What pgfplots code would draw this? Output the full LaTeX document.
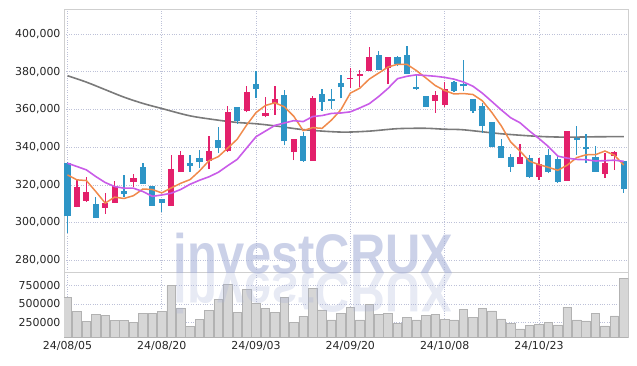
\documentclass[border=0pt]{standalone}
\usepackage{fontspec}
\setmainfont{DejaVu Sans}
\newfontfamily\wmfont{Liberation Sans}
\usepackage{pgfplots}
\usepackage{pgfplotstable}
\pgfplotsset{compat=1.18}
\definecolor{upc}{HTML}{E3206B}
\definecolor{dnc}{HTML}{2E95C6}
\definecolor{ma5}{HTML}{F08A4B}
\definecolor{ma10}{HTML}{C95CE8}
\definecolor{ma60}{HTML}{7A7A7A}
\definecolor{gridc}{HTML}{BDC1D8}
\definecolor{framec}{HTML}{CFCFCF}
\definecolor{wmc}{HTML}{A8B2D9}

\pgfplotstableread{
i o h l c
1 308500 322650 308000 318760
2 311680 324420 311150 316100
4 307960 315570 304600 310440
5 310620 322300 310620 319470
7 321770 325840 319110 323540
11 309020 335930 309020 328320
12 326720 337700 326720 335750
15 332740 345660 328490 337700
17 338050 361950 337340 358580
19 358940 372570 358400 369380
21 356280 366550 355750 358230
22 363010 372570 357170 365660
24 337340 344250 333090 344250
26 332740 367260 332740 366020
30 375930 382120 371150 376810
31 377520 380710 371860 378940
32 380180 393100 380180 387960
34 381950 387790 373450 387790
39 364740 369520 358370 367610
40 362500 374300 361240 370800
48 330970 341590 330970 334690
50 324070 334160 322650 331150
53 322300 348320 322300 348320
57 325660 336810 323540 331500
58 335570 337700 327960 337340
}\uptab

\pgfplotstableread{
i o h l c
0 331500 332000 294330 303700
3 309900 313450 302650 302650
6 316810 325300 313800 315220
8 329380 331500 320350 320350
9 319470 319470 309020 309020
10 312560 312560 305480 310620
13 331680 335930 327080 330260
14 334160 338230 328850 331860
16 343890 350620 336990 339290
18 361060 361060 352390 353630
20 373630 380180 365840 370800
23 367610 370440 340880 343010
25 346020 347960 332030 332740
27 368140 370800 359290 363890
28 365500 370800 360180 364500
29 373980 378050 365840 371680
33 389030 390800 381060 381060
35 387790 388480 382800 384070
36 389010 393790 378760 378760
37 372000 378760 370420 371000
38 367240 367240 361240 361560
41 374300 375220 369030 369520
42 373300 386370 369560 372300
43 365660 365660 358050 358940
44 361950 363360 347430 350970
45 353270 353270 340000 340000
46 340710 344250 334160 334160
47 334690 336460 327080 329730
49 334160 335930 323540 324070
51 335750 338940 326190 326900
52 333800 335400 320880 321770
54 344700 351000 335930 343700
55 339820 346900 331500 338760
56 335040 340710 327080 327080
59 332740 332740 315930 317700
}\dntab

\pgfplotstableread{
i v
0 591000
1 395000
2 258000
3 359000
4 340000
5 272000
6 272000
7 250000
8 368000
9 368000
10 395000
11 750000
12 441000
13 195000
14 291000
15 414000
16 564000
17 769000
18 387000
19 701000
20 510000
21 441000
22 387000
23 591000
24 250000
25 332000
26 714000
27 418000
28 281000
29 373000
30 455000
31 281000
32 496000
33 359000
34 373000
35 236000
36 318000
37 281000
38 340000
39 359000
40 291000
41 281000
42 427000
43 318000
44 441000
45 404000
46 295000
47 236000
48 158000
49 204000
50 222000
51 250000
52 213000
53 455000
54 281000
55 268000
56 373000
57 199000
58 336000
59 851000
}\voltab

\pgfplotsset{
  common/.style={
    scale only axis,
    width=564.3bp,
    xmin=-0.37, xmax=59.48,
    xtick={0,10,20,30,40,50},
    major tick length=0pt,
    grid=major,
    grid style={dotted, draw=gridc, line width=0.7bp},
    axis line style={draw=framec, line width=0.8bp},
    tick label style={font=\fontsize{11}{12}\selectfont, text=black!85},
    /pgf/number format/assume math mode=true,
    scaled y ticks=false,
    clip=true,
  },
  candle/.style 2 args={draw=none, mark=none, forget plot,
    error bars/.cd, y dir=plus, y explicit, error mark=none,
    error bar style={draw=#1, line width=#2}},
}

\begin{document}
\begin{tikzpicture}
\path[use as bounding box] (0,0) rectangle (637bp,366bp);

\begin{axis}[common,
  at={(64bp,94bp)}, anchor=south west,
  height=263bp,
  ymin=273780, ymax=413280,
  ytick={280000,300000,...,400000},
  yticklabel style={/pgf/number format/.cd, fixed, 1000 sep={,}},
  xticklabels={},
]
% MA60
\addplot[ma60, line width=1.6bp, smooth] coordinates {
(0,377900) (2,374500) (4,370500) (6,366500) (8,363200) (10,360500) (13,356600) (16,354300) (18,353100) (20,352400) (22,351300) (25,349300) (29,348000) (32,348500) (35,349800) (38,350000) (40,349500) (42,349200) (46,347100) (50,345700) (53,345300) (56,345500) (59,345600)
};
% wicks
\addplot[candle={upc}{1.3bp}]
  table[x=i, y=l, y error plus expr=\thisrow{h}-\thisrow{l}] {\uptab};
\addplot[candle={dnc}{1.3bp}]
  table[x=i, y=l, y error plus expr=\thisrow{h}-\thisrow{l}] {\dntab};
% bodies
\addplot[candle={upc}{6.2bp}]
  table[x=i, y=o, y error plus expr=\thisrow{c}-\thisrow{o}] {\uptab};
\addplot[candle={dnc}{6.2bp}]
  table[x=i, y=c, y error plus expr=\thisrow{o}-\thisrow{c}] {\dntab};
% MA5
\addplot[ma5, line width=1.5bp] coordinates {
(0,325300) (1,322650) (2,322300) (3,316460) (4,310330) (5,313484) (6,312776) (7,314264) (8,317804) (9,317520) (10,315750) (11,318370) (12,320812) (13,322794) (14,327362) (15,332778) (16,334972) (17,339538) (18,344212) (19,351716) (20,358336) (21,362124) (22,363540) (23,361416) (24,356390) (25,348778) (26,350336) (27,349982) (28,354370) (29,359856) (30,368670) (31,371254) (32,376068) (33,379290) (34,382512) (35,383964) (36,383928) (37,380634) (38,376734) (39,372698) (40,370044) (41,368196) (42,368446) (43,367922) (44,364594) (45,358434) (46,351362) (47,342760) (48,337910) (49,332530) (50,330760) (51,329308) (52,327716) (53,330442) (54,334442) (55,335964) (56,336000) (57,337946) (58,335750) (59,330476)
};
% MA10
\addplot[ma10, line width=1.6bp] coordinates {
(0,331500) (1,329730) (2,327960) (3,324420) (4,321240) (5,319110) (6,318230) (7,318230) (8,316460) (9,313925) (10,314617) (11,315573) (12,317538) (13,320299) (14,322441) (15,324264) (16,326671) (17,330175) (18,333503) (19,339539) (20,345557) (21,348548) (22,351539) (23,352814) (24,354053) (25,353557) (26,356230) (27,356761) (28,357893) (29,358123) (30,358724) (31,360795) (32,363025) (33,366830) (34,371184) (35,376317) (36,377591) (37,378351) (38,378012) (39,377605) (40,377004) (41,376062) (42,374540) (43,372328) (44,368646) (45,364239) (46,359779) (47,355603) (48,352916) (49,348562) (50,344597) (51,340335) (52,335238) (53,334176) (54,333486) (55,333362) (56,332654) (57,332831) (58,333096) (59,332459)
};
\end{axis}

\begin{axis}[common,
  at={(64bp,28.7bp)}, anchor=south west,
  height=65.3bp,
  ymin=44000, ymax=937000,
  ytick={250000,500000,750000},
  yticklabel style={/pgf/number format/.cd, fixed, 1000 sep={}},
  xticklabels={24/08/05,24/08/20,24/09/03,24/09/20,24/10/08,24/10/23},
  xticklabel style={yshift=-1bp},
]
\addplot[ybar, bar width=8.6bp, fill=black!16, draw=black!30, line width=0.6bp] table[x=i, y=v] {\voltab};
\end{axis}

% watermark (semi-transparent, over the chart)
\node[anchor=base west, inner sep=0pt, text=wmc, font=\wmfont\bfseries\fontsize{56}{56}\selectfont, xscale=0.875, opacity=0.6] at (173.5bp,92.7bp) {investCRUX};
\node[anchor=base west, inner sep=0pt, text=wmc, font=\wmfont\bfseries\fontsize{56}{56}\selectfont, xscale=0.875, yscale=-1, opacity=0.28] at (173.5bp,92.7bp) {investCRUX};
\end{tikzpicture}
\end{document}
